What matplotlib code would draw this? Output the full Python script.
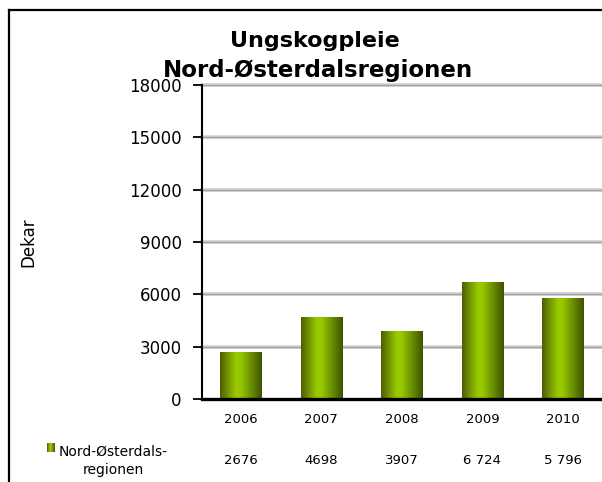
import numpy as np
import matplotlib
matplotlib.use('Agg')
import matplotlib.pyplot as plt
import matplotlib.transforms as mtransforms
from matplotlib.colors import LinearSegmentedColormap
from matplotlib.lines import Line2D

# data
years = ['2006', '2007', '2008', '2009', '2010']
values = [2676, 4698, 3907, 6724, 5796]
value_labels = ['2676', '4698', '3907', '6 724', '5 796']
series_name = 'Nord-Østerdals-\nregionen'
title_lines = ['Ungskogpleie', 'Nord-Østerdalsregionen']
yticks = [0, 3000, 6000, 9000, 12000, 15000, 18000]

W, H = 602, 482
fig = plt.figure(figsize=(W / 100, H / 100), dpi=100)
# category width ~80.6 px, axes runs a little past the right edge
ax = fig.add_axes([202 / W, 1 - 399 / H, 403 / W, 314 / H])

# cylinder-like gradient for the bars
cmap = LinearSegmentedColormap.from_list(
    'cyl', [(0, '#4a5f00'), (0.38, '#9acb00'), (0.5, '#95c600'), (1, '#3f5200')])
grad = np.linspace(0, 1, 256).reshape(1, -1)

x = np.arange(len(years))
bars = ax.bar(x, values, width=0.515, color='none', edgecolor='none', zorder=3)
for b in bars:
    x0, y0 = b.get_x(), b.get_y()
    im = ax.imshow(grad, cmap=cmap, aspect='auto', zorder=3,
                   extent=(x0, x0 + b.get_width(), y0, y0 + b.get_height()))
    im.set_clip_path(b)

ax.set_xlim(-0.48, len(years) - 0.48)
ax.set_ylim(0, 18000)
ax.set_yticks(yticks)
ax.set_yticklabels([str(v) for v in yticks], fontsize=12)
ax.set_xticks(x)
ax.set_xticklabels(years, fontsize=9.5)
ax.tick_params(axis='x', length=0, pad=10)
ax.tick_params(axis='y', length=6.5, width=1.3, pad=8)

# gridlines with a slight double-line look
for v in yticks[1:]:
    ax.axhline(v, color='#d2d2d2', lw=2.6, zorder=1, clip_on=False)
    ax.axhline(v, color='#a3a3a3', lw=1.0, zorder=1, clip_on=False)

for s in ['top', 'right']:
    ax.spines[s].set_visible(False)
ax.spines['left'].set_linewidth(1.5)
ax.spines['bottom'].set_linewidth(2.4)
ax.spines['bottom'].set_zorder(4)

ax.set_ylabel('Dekar', fontsize=12)
ax.yaxis.set_label_coords((37 - 202) / 403, 0.5)

fig.text(315 / W, 1 - 47 / H, title_lines[0], ha='center', va='baseline',
         fontsize=16, fontweight='bold')
fig.text(318 / W, 1 - 77 / H, title_lines[1], ha='center', va='baseline',
         fontsize=16.5, fontweight='bold')

# data table row below the axis
row = mtransforms.blended_transform_factory(ax.transData, fig.transFigure)
for i, lab in enumerate(value_labels):
    ax.text(i, 1 - 461 / H, lab, transform=row, ha='center', va='center',
            fontsize=9.5)
fig.text(113 / W, 1 - 461 / H, series_name, ha='center', va='center',
         fontsize=10, multialignment='center', linespacing=1.45)
sq = fig.add_axes([47 / W, 1 - 452 / H, 8 / W, 9 / H])
sq.imshow(grad, cmap=cmap, aspect='auto')
sq.axis('off')

# chart frame (partly cut off on right and bottom)
fig.add_artist(Line2D([8.5 / W, 8.5 / W], [0, 1 - 10 / H], color='black', lw=1.6,
                      transform=fig.transFigure))
fig.add_artist(Line2D([8.5 / W, 1], [1 - 10 / H, 1 - 10 / H], color='black', lw=1.6,
                      transform=fig.transFigure))

fig.savefig('out.png', dpi=100)
